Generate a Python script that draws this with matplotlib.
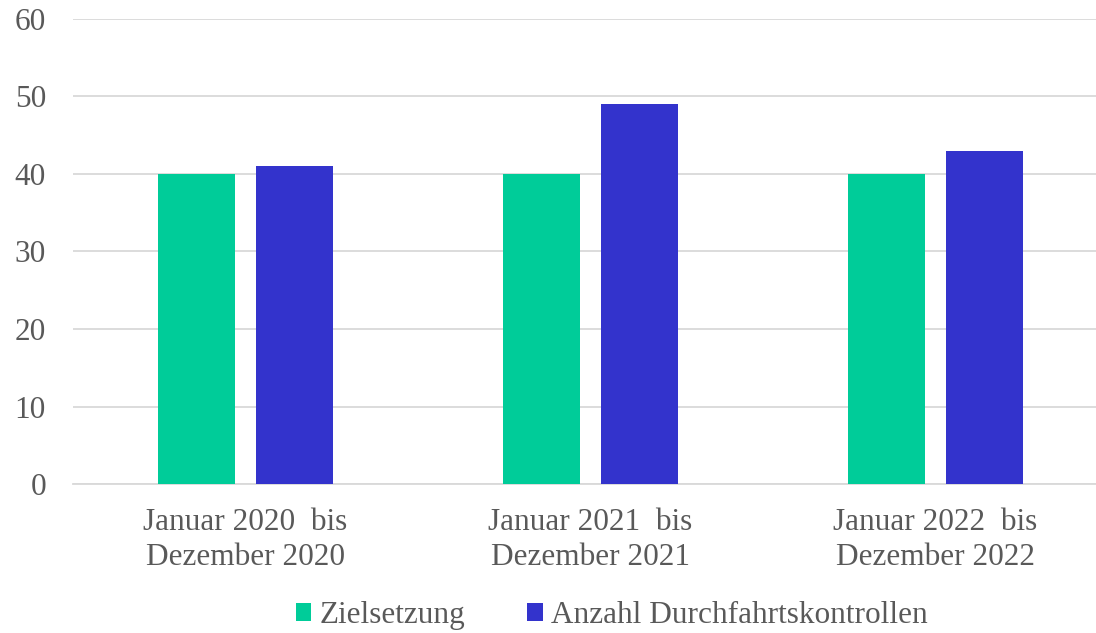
import matplotlib.pyplot as plt
import numpy as np

categories = ["Januar 2020  bis\nDezember 2020",
              "Januar 2021  bis\nDezember 2021",
              "Januar 2022  bis\nDezember 2022"]
zielsetzung = [40, 40, 40]
kontrollen = [41, 49, 43]
yticks = [0, 10, 20, 30, 40, 50, 60]

green = "#00CC99"
blue = "#3333CC"
text_grey = "#595959"
grid_grey = "#D9D9D9"

plt.rcParams['font.family'] = ['Liberation Serif', 'DejaVu Serif']

fig = plt.figure(figsize=(10.96, 6.33), dpi=100)
# axes area runs past the right edge like in the original export
ax = fig.add_axes([73 / 1096, 149 / 633, 1035 / 1096, 465 / 633])

x = np.arange(len(categories))
w = 0.226
off = 0.142
ax.bar(x - off, zielsetzung, width=w, color=green, label="Zielsetzung", zorder=3)
ax.bar(x + off, kontrollen, width=w, color=blue, label="Anzahl Durchfahrtskontrollen", zorder=3)

ax.set_xlim(-0.5, 2.5)
ax.set_ylim(0, 60)
ax.set_yticks(yticks)
ax.set_xticks(x)
ax.set_xticklabels(categories, linespacing=1.28)

ax.yaxis.grid(True, color=grid_grey, linewidth=1.3, zorder=0)
for s in ["top", "right", "left"]:
    ax.spines[s].set_visible(False)
ax.spines["bottom"].set_color(grid_grey)
ax.spines["bottom"].set_linewidth(1.3)

ax.tick_params(axis="both", length=0, labelsize=22.5, labelcolor=text_grey)
ax.tick_params(axis="y", pad=19.5)
ax.tick_params(axis="x", pad=17)

fig.legend(loc="center", bbox_to_anchor=(0.558, 0.028), ncol=2, frameon=False,
           fontsize=22.5, labelcolor=text_grey, handlelength=0.5, handleheight=0.5,
           handletextpad=0.25, columnspacing=2.0)

fig.savefig("out.png", dpi=100)
